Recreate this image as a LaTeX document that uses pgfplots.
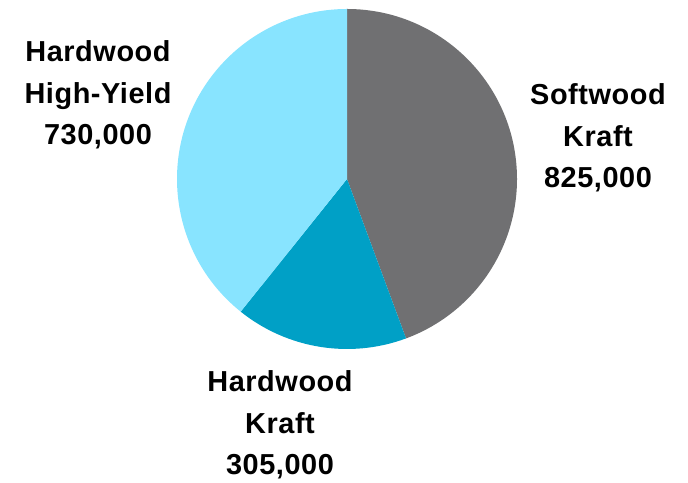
\documentclass[border=0pt]{standalone}
\usepackage{pgfplots}
\usepackage{pgfplotstable}
\pgfplotsset{compat=1.18}
\usepackage{fontspec}
\setmainfont{Liberation Sans}[LetterSpace=2]
\definecolor{swk}{HTML}{707072}
\definecolor{hwk}{HTML}{00A0C6}
\definecolor{hwy}{HTML}{88E4FF}
\pgfplotstableread[col sep=comma,row sep=\\]{
name,value\\
Softwood Kraft,825000\\
Hardwood Kraft,305000\\
Hardwood High-Yield,730000\\
}\piedata
\begin{document}
\begin{tikzpicture}
\pgfplotstablegetelem{0}{value}\of\piedata \edef\va{\pgfplotsretval}
\pgfplotstablegetelem{1}{value}\of\piedata \edef\vb{\pgfplotsretval}
\pgfplotstablegetelem{2}{value}\of\piedata \edef\vc{\pgfplotsretval}
\edef\tot{\fpeval{\va+\vb+\vc}}
\edef\aA{90}
\edef\aB{\fpeval{90-360*\va/\tot}}
\edef\aC{\fpeval{\aB-360*\vb/\tot}}
\edef\aD{\fpeval{\aC-360*\vc/\tot}}
\begin{axis}[x=1bp,y=1bp,xmin=0,xmax=688,ymin=0,ymax=479,
  scale only axis,hide axis,clip=false]
\path (axis cs:0,0) rectangle (axis cs:688,479);
\fill[swk] (axis cs:347,300) -- ++(\aA:170bp) arc[start angle=\aA,end angle=\aB,radius=170bp] -- cycle;
\fill[hwk] (axis cs:347,300) -- ++(\aB:170bp) arc[start angle=\aB,end angle=\aC,radius=170bp] -- cycle;
\fill[hwy] (axis cs:347,300) -- ++(\aC:170bp) arc[start angle=\aC,end angle=\aD,radius=170bp] -- cycle;
\node[align=center,font=\fontsize{29}{41.5}\selectfont\bfseries] at (axis cs:98,384) {Hardwood\\High-Yield\\730,000};
\node[align=center,font=\fontsize{29}{41.5}\selectfont\bfseries] at (axis cs:598,341) {Softwood\\Kraft\\825,000};
\node[align=center,font=\fontsize{29}{41.5}\selectfont\bfseries] at (axis cs:280,54) {Hardwood\\Kraft\\305,000};
\end{axis}
\end{tikzpicture}
\end{document}
